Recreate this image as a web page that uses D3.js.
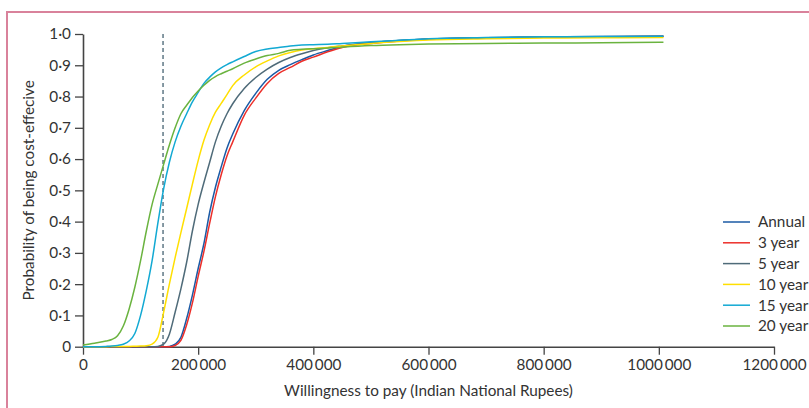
<!DOCTYPE html>
<html>
<head>
<meta charset="utf-8">
<script src="https://cdn.jsdelivr.net/npm/d3@7"></script>
<style>
  html, body { margin: 0; padding: 0; background: #fff; }
  svg { display: block; }
  text { font-family: "Lato", "Noto Sans", sans-serif; fill: #333; }
</style>
</head>
<body>
<svg id="chart" width="809" height="408"></svg>
<script>
// ---------- DATA ----------
const wtp = [0, 20000, 40000, 50000, 60000, 70000, 80000, 90000, 100000, 110000, 120000, 130000, 140000, 150000, 160000, 170000, 180000, 190000, 200000, 210000, 220000, 230000, 240000, 250000, 260000, 280000, 300000, 320000, 340000, 360000, 380000, 400000, 425000, 450000, 500000, 550000, 600000, 700000, 800000, 900000, 1008000];

const annual  = [0, 0, 0, 0, 0, 0, 0, 0, 0, 0, 0, 0, 0, 0.001, 0.008, 0.03, 0.09, 0.165, 0.25, 0.33, 0.43, 0.51, 0.575, 0.635, 0.68, 0.755, 0.81, 0.855, 0.884, 0.902, 0.918, 0.933, 0.947, 0.96, 0.972, 0.979, 0.984, 0.988, 0.99, 0.992, 0.993];
const year3   = [0, 0, 0, 0, 0, 0, 0, 0, 0, 0, 0, 0, 0, 0, 0.004, 0.02, 0.07, 0.14, 0.225, 0.305, 0.395, 0.48, 0.55, 0.61, 0.655, 0.74, 0.795, 0.842, 0.874, 0.893, 0.913, 0.926, 0.943, 0.957, 0.97, 0.978, 0.983, 0.987, 0.99, 0.991, 0.992];
const year5   = [0, 0, 0, 0, 0, 0, 0, 0, 0, 0, 0, 0.001, 0.008, 0.04, 0.11, 0.185, 0.27, 0.37, 0.455, 0.525, 0.59, 0.655, 0.705, 0.745, 0.777, 0.826, 0.861, 0.888, 0.909, 0.925, 0.937, 0.947, 0.956, 0.962, 0.972, 0.979, 0.984, 0.988, 0.99, 0.991, 0.993];
const year10  = [0, 0, 0, 0.0005, 0.001, 0.001, 0.001, 0.0015, 0.002, 0.003, 0.008, 0.03, 0.11, 0.2, 0.285, 0.365, 0.442, 0.52, 0.595, 0.66, 0.71, 0.75, 0.778, 0.806, 0.835, 0.869, 0.895, 0.914, 0.93, 0.941, 0.949, 0.953, 0.957, 0.962, 0.97, 0.976, 0.981, 0.985, 0.987, 0.988, 0.989];
const year15  = [0, 0, 0.001, 0.002, 0.004, 0.008, 0.018, 0.042, 0.1, 0.18, 0.275, 0.395, 0.505, 0.59, 0.655, 0.705, 0.745, 0.783, 0.813, 0.842, 0.862, 0.879, 0.892, 0.902, 0.911, 0.928, 0.944, 0.952, 0.957, 0.962, 0.965, 0.966, 0.967, 0.97, 0.975, 0.98, 0.985, 0.989, 0.991, 0.992, 0.993];
const year20  = [0.005, 0.011, 0.018, 0.023, 0.035, 0.066, 0.12, 0.19, 0.275, 0.37, 0.455, 0.52, 0.583, 0.645, 0.7, 0.745, 0.772, 0.797, 0.818, 0.836, 0.852, 0.864, 0.873, 0.881, 0.889, 0.907, 0.92, 0.931, 0.938, 0.948, 0.951, 0.953, 0.955, 0.958, 0.963, 0.966, 0.968, 0.97, 0.971, 0.972, 0.974];

const seriesNames  = ["Annual", "3 year", "5 year", "10 year", "15 year", "20 year"];
const seriesValues = [annual, year3, year5, year10, year15, year20];
const seriesColors = ["#1b5aa5", "#ec2f2a", "#4f6b79", "#ffdf00", "#12a9d3", "#6ab33f"];

const thresholdWTP = 139000;

const xTickValues = [0, 200000, 400000, 600000, 800000, 1000000, 1200000];
const xTickLabels = ["0", "200\u2009000", "400\u2009000", "600\u2009000", "800\u2009000", "1000\u2009000", "1200\u2009000"];
const yTickValues = [0, 0.1, 0.2, 0.3, 0.4, 0.5, 0.6, 0.7, 0.8, 0.9, 1.0];
const yTickLabels = ["0", "0\u00b71", "0\u00b72", "0\u00b73", "0\u00b74", "0\u00b75", "0\u00b76", "0\u00b77", "0\u00b78", "0\u00b79", "1\u00b70"];

const xTitle = "Willingness to pay (Indian National Rupees)";
const yTitle = "Probability of being cost-effecive";

// ---------- LAYOUT ----------
const svg = d3.select("#chart");
const margin = { left: 83, right: 35, top: 34, bottom: 61.3 };
const W = 809, H = 408;
const FS = 15.3;
const x = d3.scaleLinear().domain([0, 1200000]).range([margin.left, W - margin.right]);
const y = d3.scaleLinear().domain([0, 1]).range([H - margin.bottom, margin.top]);

// pink frame (top and left)
svg.append("line").attr("x1", 7).attr("x2", W).attr("y1", 12).attr("y2", 12)
  .attr("stroke", "#d9829b").attr("stroke-width", 2);
svg.append("line").attr("x1", 7).attr("x2", 7).attr("y1", 11).attr("y2", H)
  .attr("stroke", "#d9829b").attr("stroke-width", 2);

const axisColor = "#444";

// X axis
const xAxis = svg.append("g")
  .attr("transform", `translate(0,${y(0)})`)
  .call(d3.axisBottom(x).tickValues(xTickValues)
    .tickFormat((d, i) => xTickLabels[i]).tickSize(8).tickSizeOuter(0).tickPadding(4));
xAxis.select(".domain").attr("stroke", axisColor).attr("stroke-width", 1.6);
xAxis.selectAll(".tick line").attr("stroke", axisColor).attr("stroke-width", 1.3);
xAxis.selectAll("text").attr("font-size", FS).attr("fill", "#333")
  .attr("font-family", "Lato, 'Noto Sans', sans-serif");

// Y axis
const yAxis = svg.append("g")
  .attr("transform", `translate(${x(0)},0)`)
  .call(d3.axisLeft(y).tickValues(yTickValues)
    .tickFormat((d, i) => yTickLabels[i]).tickSize(8).tickSizeOuter(0).tickPadding(4));
yAxis.select(".domain").attr("stroke", axisColor).attr("stroke-width", 1.6);
yAxis.selectAll(".tick line").attr("stroke", axisColor).attr("stroke-width", 1.3);
yAxis.selectAll("text").attr("font-size", FS).attr("fill", "#333")
  .attr("font-family", "Lato, 'Noto Sans', sans-serif");

// threshold dashed line
svg.append("line")
  .attr("x1", x(thresholdWTP)).attr("x2", x(thresholdWTP))
  .attr("y1", y(1)).attr("y2", y(0))
  .attr("stroke", "#5f7885").attr("stroke-width", 1.5)
  .attr("stroke-dasharray", "4,3");

// curves
const line = d3.line()
  .x((d, i) => x(wtp[i]))
  .y(d => y(d))
  .curve(d3.curveMonotoneX);

seriesValues.forEach((vals, k) => {
  svg.append("path")
    .datum(vals)
    .attr("d", line)
    .attr("fill", "none")
    .attr("stroke", seriesColors[k])
    .attr("stroke-width", 1.5);
});

// legend
const legend = svg.append("g").attr("transform", "translate(723,222)");
seriesNames.forEach((name, k) => {
  const g = legend.append("g").attr("transform", `translate(0,${k * 20.8})`);
  g.append("line").attr("x1", 0).attr("x2", 27).attr("y1", 0).attr("y2", 0)
    .attr("stroke", seriesColors[k]).attr("stroke-width", 1.5);
  g.append("text").attr("x", 35).attr("y", 0).attr("dy", "0.35em")
    .attr("font-size", FS).text(name);
});

// axis titles
svg.append("text")
  .attr("x", (x(0) + x(1200000)) / 2).attr("y", 391)
  .attr("text-anchor", "middle").attr("dy", "0.35em")
  .attr("font-size", FS).text(xTitle);

svg.append("text")
  .attr("transform", `translate(29,${(y(0) + y(1)) / 2}) rotate(-90)`)
  .attr("text-anchor", "middle").attr("dy", "0.35em")
  .attr("font-size", FS).text(yTitle);
</script>
</body>
</html>
